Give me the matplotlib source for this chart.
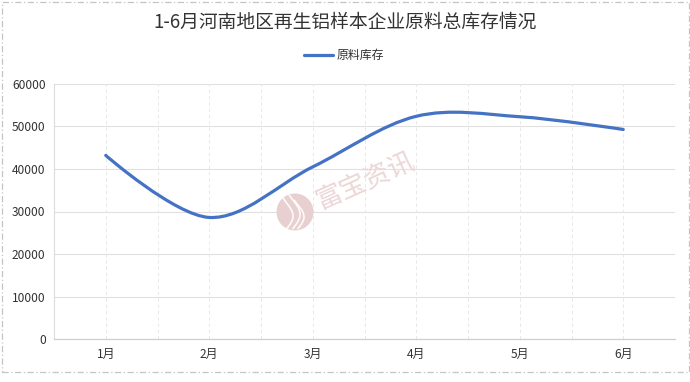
import numpy as np
import matplotlib
matplotlib.use('Agg')
import matplotlib.pyplot as plt
from matplotlib.path import Path
from matplotlib.patches import PathPatch, Ellipse, Rectangle
from matplotlib.lines import Line2D

plt.rcParams['font.family'] = ['Noto Sans CJK SC', 'DejaVu Sans']

# ---- data ----
title = '1-6月河南地区再生铝样本企业原料总库存情况'
series_name = '原料库存'
months = ['1月', '2月', '3月', '4月', '5月', '6月']
stock = [43200, 28600, 40500, 52400, 52300, 49300]
yticks = [0, 10000, 20000, 30000, 40000, 50000, 60000]
watermark = '富宝资讯'

# ---- layout (pixels) ----
W, H = 690, 382
L, R, B, T = 54, 675, 339, 84
fig = plt.figure(figsize=(W / 100, H / 100), dpi=100)
fig.patch.set_facecolor('white')
ax = fig.add_axes([L / W, 1 - B / H, (R - L) / W, (B - T) / H])
ax.set_xlim(-0.5, len(months) - 0.5)
ax.set_ylim(yticks[0], yticks[-1])

# grid
for yv in yticks:
    ax.axhline(yv, color='#e0e0e0', lw=0.8, zorder=0)
for xv in np.arange(-0.5, len(months) - 0.5 + 0.01, 0.5):
    ax.axvline(xv, color='#e8e8e8', lw=0.7, ls=(0, (3.5, 3)), zorder=0)

for s in ['top', 'right']:
    ax.spines[s].set_visible(False)
ax.spines['left'].set_color('#dcdcdc')
ax.spines['bottom'].set_color('#cfcfcf')
ax.spines['left'].set_linewidth(0.8)
ax.spines['bottom'].set_linewidth(0.9)

ax.set_xticks(range(len(months)))
ax.set_xticklabels(months)
ax.set_yticks(yticks)
ax.set_yticklabels([str(v) for v in yticks])
ax.tick_params(axis='both', length=0, labelsize=8.6, labelcolor='#333333')
ax.tick_params(axis='y', pad=6)
ax.tick_params(axis='x', pad=6.5)

# ---- smooth line (Catmull-Rom style bezier through the data points) ----
xs = np.arange(len(months), dtype=float)
P = np.column_stack([xs, np.array(stock, dtype=float)])
n = len(P)
verts = [P[0]]
codes = [Path.MOVETO]
for i in range(n - 1):
    p0, p1 = P[i], P[i + 1]
    if i == 0:
        c0 = p0.copy()
    else:
        c0 = p0 + (P[i + 1] - P[i - 1]) / 6.0
    if i + 1 == n - 1:
        c1 = p1.copy()
    else:
        c1 = p1 - (P[i + 2] - P[i]) / 6.0
    verts += [c0, c1, p1]
    codes += [Path.CURVE4] * 3
path = Path(np.array(verts), codes)
ax.add_patch(PathPatch(path, facecolor='none', edgecolor='#4472C4', lw=2.3,
                       capstyle='round', joinstyle='round', zorder=3))

# ---- watermark ----
cx, cy, rr = 295, 212, 18.5
fig.patches.append(Ellipse((cx / W, 1 - cy / H), 2 * rr / W, 2 * rr / H, transform=fig.transFigure,
                           facecolor='#e8d0d0', edgecolor='none', zorder=1))
# white flame strokes in the logo
for dx, h, bend in [(-5, 30, 6), (1, 34, 7), (6, 28, 6)]:
    tt = np.linspace(0, 1, 30)
    px = cx + dx + bend * np.sin(tt * np.pi * 1.2) - 3
    py = cy + rr - 2 - tt * h
    fig.lines.append(Line2D(px / W, 1 - py / H, transform=fig.transFigure,
                            color='white', lw=1.2, alpha=0.9, zorder=1.5))
fig.text(366 / W, 1 - 181 / H, watermark, rotation=24, ha='center', va='center',
         fontsize=19, color='#ecd6d6', zorder=1)

# ---- title & legend ----
fig.text(0.5, 1 - 22 / H, title, ha='center', va='center', fontsize=13.5, color='#333333')
fig.lines.append(Line2D([304 / W, 333 / W], [1 - 55 / H, 1 - 55 / H], transform=fig.transFigure,
                        color='#4472C4', lw=2.3, solid_capstyle='round'))
fig.text(337 / W, 1 - 55 / H, series_name, ha='left', va='center', fontsize=8.6, color='#333333')

# ---- border ----
fig.patches.append(Rectangle((2 / W, 1 - 372 / H), 687 / W, 370 / H, transform=fig.transFigure,
                             facecolor='none', edgecolor='#c4c4c4', lw=0.9,
                             ls=(0, (5, 2, 1, 2))))

fig.savefig('out.png', dpi=100, facecolor='white')
